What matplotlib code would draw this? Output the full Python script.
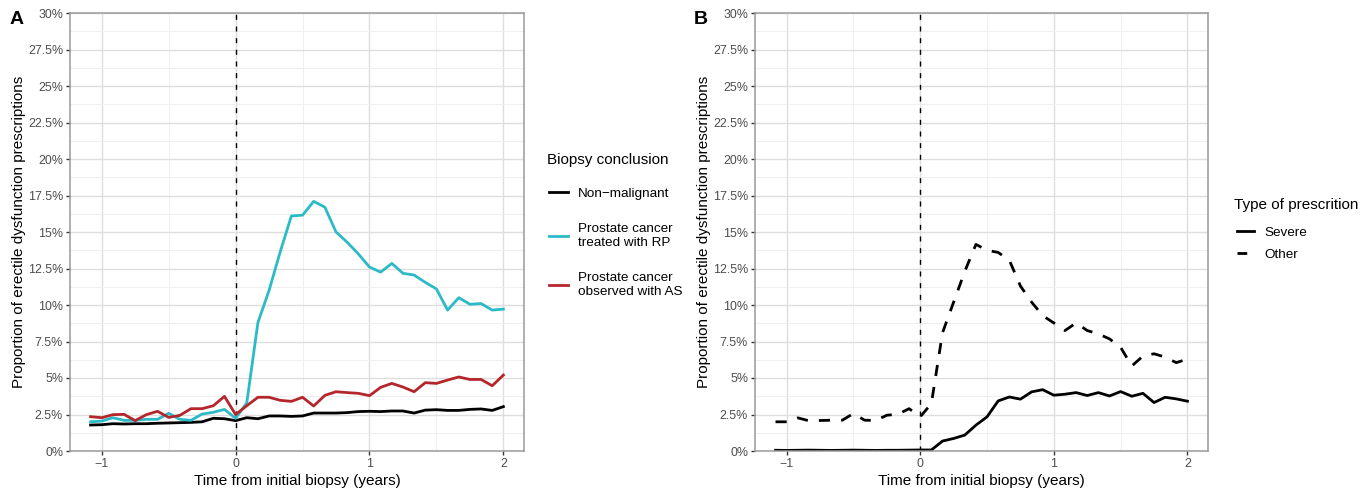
import matplotlib
matplotlib.use("Agg")
import matplotlib.pyplot as plt
import numpy as np
from matplotlib.ticker import FuncFormatter, MultipleLocator

plt.rcParams['font.family'] = ['Liberation Sans', 'DejaVu Sans']

# months relative to biopsy, -13..24 -> years
months = np.arange(-13, 25)
time_years = months / 12

# panel A: proportion (%) by biopsy conclusion
non_malignant = [1.78, 1.80, 1.87, 1.85, 1.87, 1.87, 1.90, 1.92, 1.94, 1.96, 2.00, 2.24, 2.21,
                 2.08, 2.28, 2.21, 2.40, 2.40, 2.37, 2.40, 2.60, 2.60, 2.60, 2.63, 2.70, 2.72,
                 2.70, 2.74, 2.74, 2.60, 2.80, 2.83, 2.78, 2.78, 2.85, 2.88, 2.78, 3.04]
rp = [2.00, 2.05, 2.28, 2.10, 2.10, 2.17, 2.17, 2.58, 2.17, 2.10, 2.53, 2.65, 2.85,
      2.24, 3.30, 8.80, 11.0, 13.65, 16.1, 16.15, 17.1, 16.7, 15.0, 14.3, 13.5, 12.6,
      12.25, 12.85, 12.17, 12.05, 11.55, 11.1, 9.65, 10.5, 10.05, 10.1, 9.65, 9.72]
as_obs = [2.35, 2.28, 2.49, 2.51, 2.08, 2.49, 2.72, 2.30, 2.44, 2.90, 2.90, 3.10, 3.74,
          2.50, 3.10, 3.68, 3.68, 3.47, 3.40, 3.68, 3.08, 3.81, 4.06, 4.00, 3.95, 3.79,
          4.36, 4.63, 4.38, 4.06, 4.68, 4.63, 4.86, 5.07, 4.90, 4.90, 4.47, 5.20]

# panel B: proportion (%) by type of prescription
severe = [0.05, 0.04, 0.05, 0.06, 0.05, 0.04, 0.05, 0.06, 0.05, 0.04, 0.05, 0.05, 0.06,
          0.07, 0.07, 0.68, 0.86, 1.09, 1.77, 2.34, 3.43, 3.70, 3.55, 4.05, 4.20, 3.82,
          3.89, 4.00, 3.80, 4.00, 3.77, 4.07, 3.75, 3.95, 3.32, 3.68, 3.57, 3.41]
other = [2.00, 2.00, 2.27, 2.07, 2.09, 2.11, 2.11, 2.57, 2.11, 2.09, 2.45, 2.52, 2.90,
         2.34, 3.25, 8.10, 10.2, 12.3, 14.15, 13.75, 13.6, 13.07, 11.3, 10.2, 9.27, 8.77,
         8.25, 8.77, 8.25, 8.02, 7.68, 7.10, 5.82, 6.50, 6.66, 6.43, 6.05, 6.30]

y_ticks = np.arange(0, 30.01, 2.5)
x_ticks = [-1, 0, 1, 2]


def pct(v, pos):
    return ('%g' % v) + '%'


def yr(v, pos):
    return ('%d' % v).replace('-', '\u2212')


def style_axes(ax):
    ax.set_xlim(-1.237, 2.154)
    ax.set_ylim(0, 30)
    ax.set_xticks(x_ticks)
    ax.set_yticks(y_ticks)
    ax.xaxis.set_minor_locator(MultipleLocator(0.5))
    ax.yaxis.set_minor_locator(MultipleLocator(1.25))
    ax.yaxis.set_major_formatter(FuncFormatter(pct))
    ax.xaxis.set_major_formatter(FuncFormatter(yr))
    ax.grid(which='major', color='#DEDEDE', lw=1.0)
    ax.grid(which='minor', color='#EDEDED', lw=0.6)
    ax.set_axisbelow(True)
    for s in ax.spines.values():
        s.set_color('#9A9A9A')
        s.set_linewidth(1.1)
    ax.tick_params(which='major', colors='#333333', labelcolor='#4D4D4D',
                   labelsize=8.9, length=3, width=1, pad=2)
    ax.tick_params(which='minor', length=0)
    ax.axvline(0, color='black', ls=(0, (3.6, 4.8)), lw=1.0)
    ax.set_xlabel('Time from initial biopsy (years)', fontsize=11, labelpad=3)
    ax.set_ylabel('Proportion of erectile dysfunction prescriptions', fontsize=11, labelpad=1)


fig = plt.figure(figsize=(13.68, 4.91), dpi=100)
W, H = 1368, 491
axA = fig.add_axes([70 / W, 1 - 451 / H, (524 - 70) / W, (451 - 13) / H])
axB = fig.add_axes([755 / W, 1 - 451 / H, (1208 - 755) / W, (451 - 13) / H])

style_axes(axA)
axA.plot(time_years, non_malignant, color='black', lw=2.0, label='Non\u2212malignant')
axA.plot(time_years, rp, color='#2BBBC6', lw=2.0, label='Prostate cancer\ntreated with RP')
axA.plot(time_years, as_obs, color='#B5262C', lw=2.0, label='Prostate cancer\nobserved with AS')

style_axes(axB)
axB.plot(time_years, severe, color='black', lw=2.0, label='Severe')
axB.plot(time_years, other, color='black', lw=2.0, ls=(0, (4, 4)), label='Other')

legA = axA.legend(loc='upper left', bbox_to_anchor=(542 / W, 1 - 181 / H),
                  bbox_transform=fig.transFigure, frameon=False, fontsize=9.7,
                  borderpad=0, handlelength=1.4, handletextpad=0.74, labelspacing=1.72)
legB = axB.legend(loc='upper left', bbox_to_anchor=(1230 / W, 1 - 220 / H),
                  bbox_transform=fig.transFigure, frameon=False, fontsize=9.7,
                  borderpad=0, handlelength=1.26, handletextpad=0.8, labelspacing=0.7)
# ggplot shows a single short dash for the dashed key
legB.get_lines()[1].set_linestyle((0, (3.5, 10)))

fig.text(547 / W, 1 - 160 / H, 'Biopsy conclusion', fontsize=11, va='center', ha='left')
fig.text(1234 / W, 1 - 205 / H, 'Type of prescrition', fontsize=11, va='center', ha='left')

fig.text(10 / W, 1 - 20 / H, 'A', fontsize=14, fontweight='bold', va='center', ha='left')
fig.text(694 / W, 1 - 20 / H, 'B', fontsize=14, fontweight='bold', va='center', ha='left')

fig.savefig('out.png', dpi=100)
